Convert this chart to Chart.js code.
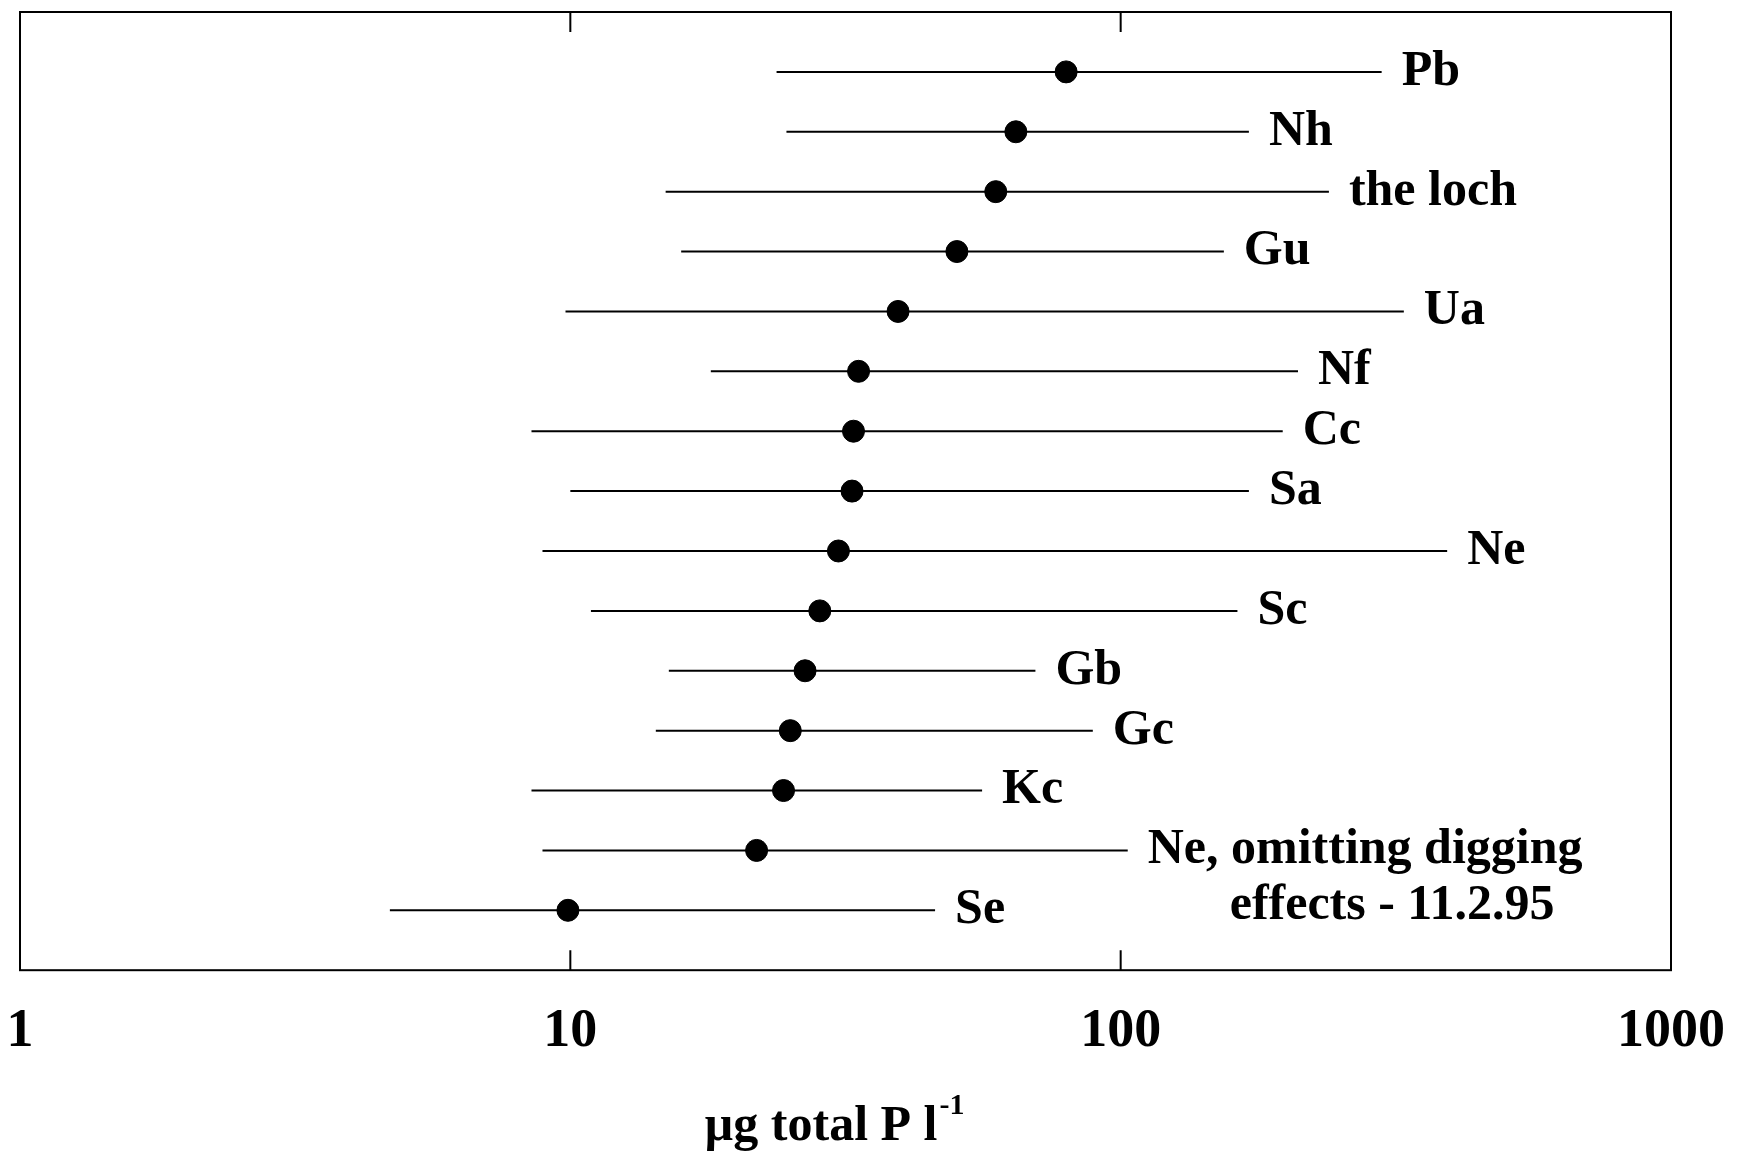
<!DOCTYPE html>
<html>
<head>
<meta charset="utf-8">
<script src="https://cdn.jsdelivr.net/npm/chart.js@4/dist/chart.umd.min.js"></script>
<style>
html, body { margin: 0; padding: 0; background: #fff; }
#wrap { width: 1747px; height: 1154px; }
</style>
</head>
<body>
<div id="wrap"><canvas id="tpChart"></canvas></div>
<script>
// sites, top to bottom
var sites = ['Pb', 'Nh', 'the loch', 'Gu', 'Ua', 'Nf', 'Cc', 'Sa', 'Ne', 'Sc', 'Gb', 'Gc', 'Kc',
             ['Ne, omitting digging', 'effects - 11.2.95'], 'Se'];
// ug total P per litre: range and mean
var lows  = [23.7, 24.7, 14.9, 15.9, 9.8, 18.0, 8.5, 10.0, 8.9, 10.9, 15.1, 14.3, 8.5, 8.9, 4.7];
var highs = [298, 171, 239, 154, 327, 210, 197, 171, 392, 163, 70, 89, 56, 103, 46];
var means = [79.6, 64.5, 59.3, 50.4, 39.4, 33.4, 32.7, 32.5, 30.7, 28.4, 26.7, 25.1, 24.4, 21.8, 9.9];
var tickValues = [1, 10, 100, 1000];
var rows = sites.map(function (s, i) { return i + 1; });

var serif = '"Liberation Serif", "Times New Roman", serif';
var labelFont = 'bold 50px ' + serif;

var datasets = [];
sites.forEach(function (site, i) {
    datasets.push({
        label: Array.isArray(site) ? site.join(' ') : site,
        data: [{ x: lows[i], y: rows[i] }, { x: highs[i], y: rows[i] }],
        showLine: true,
        borderColor: '#000',
        borderWidth: 2,
        pointRadius: 0
    });
});
datasets.push({
    label: 'mean',
    data: means.map(function (m, i) { return { x: m, y: rows[i] }; }),
    backgroundColor: '#000',
    borderColor: '#000',
    pointRadius: 11
});

var extras = {
    id: 'extras',
    afterDatasetsDraw: function (chart) {
        var ctx = chart.ctx, a = chart.chartArea;
        var x = chart.scales.x, y = chart.scales.y;
        ctx.save();
        ctx.strokeStyle = '#000';
        ctx.lineWidth = 2;
        ctx.strokeRect(a.left, a.top, a.right - a.left, a.bottom - a.top);
        // inward ticks
        [10, 100].forEach(function (v) {
            var px = x.getPixelForValue(v);
            ctx.beginPath();
            ctx.moveTo(px, a.top); ctx.lineTo(px, a.top + 20);
            ctx.moveTo(px, a.bottom); ctx.lineTo(px, a.bottom - 20);
            ctx.stroke();
        });
        // site names
        ctx.fillStyle = '#000';
        ctx.font = labelFont;
        ctx.textAlign = 'left';
        ctx.textBaseline = 'middle';
        sites.forEach(function (s, i) {
            var px = x.getPixelForValue(highs[i]) + 20;
            var py = y.getPixelForValue(rows[i]);
            if (Array.isArray(s)) {
                ctx.fillText(s[0], px, py);
                ctx.fillText(s[1], px + 82, py + 56);
            } else {
                ctx.fillText(s, px, py);
            }
        });
        // axis title with superscript
        var main = '\u00b5g total P l';
        var w1 = ctx.measureText(main).width;
        ctx.font = 'bold 30px ' + serif;
        var w2 = ctx.measureText('-1').width;
        var cx = (a.left + a.right) / 2 - 12;
        var startX = cx - (w1 + w2) / 2;
        var base = 1140;
        ctx.textBaseline = 'alphabetic';
        ctx.font = labelFont;
        ctx.fillText(main, startX, base);
        ctx.font = 'bold 30px ' + serif;
        ctx.fillText('-1', startX + w1 + 2, base - 26);
        ctx.restore();
    }
};

new Chart(document.getElementById('tpChart'), {
    type: 'scatter',
    data: { datasets: datasets },
    options: {
        responsive: true,
        maintainAspectRatio: false,
        animation: false,
        layout: { padding: { top: 9, left: 20, right: 76, bottom: 69 } },
        plugins: { legend: { display: false }, tooltip: { enabled: false } },
        scales: {
            x: {
                type: 'logarithmic',
                min: 1,
                max: 1000,
                afterBuildTicks: function (scale) {
                    scale.ticks = tickValues.map(function (v) { return { value: v }; });
                },
                afterFit: function (scale) {
                    scale.paddingLeft = 0;
                    scale.paddingRight = 0;
                },
                grid: { display: false },
                border: { display: false },
                ticks: {
                    color: '#000',
                    padding: 21,
                    maxRotation: 0,
                    autoSkip: false,
                    font: { family: serif, size: 54, weight: 'bold' },
                    callback: function (v) { return String(v); }
                }
            },
            y: {
                type: 'linear',
                min: 0,
                max: 16,
                reverse: true,
                display: false
            }
        }
    },
    plugins: [extras]
});
</script>
</body>
</html>
